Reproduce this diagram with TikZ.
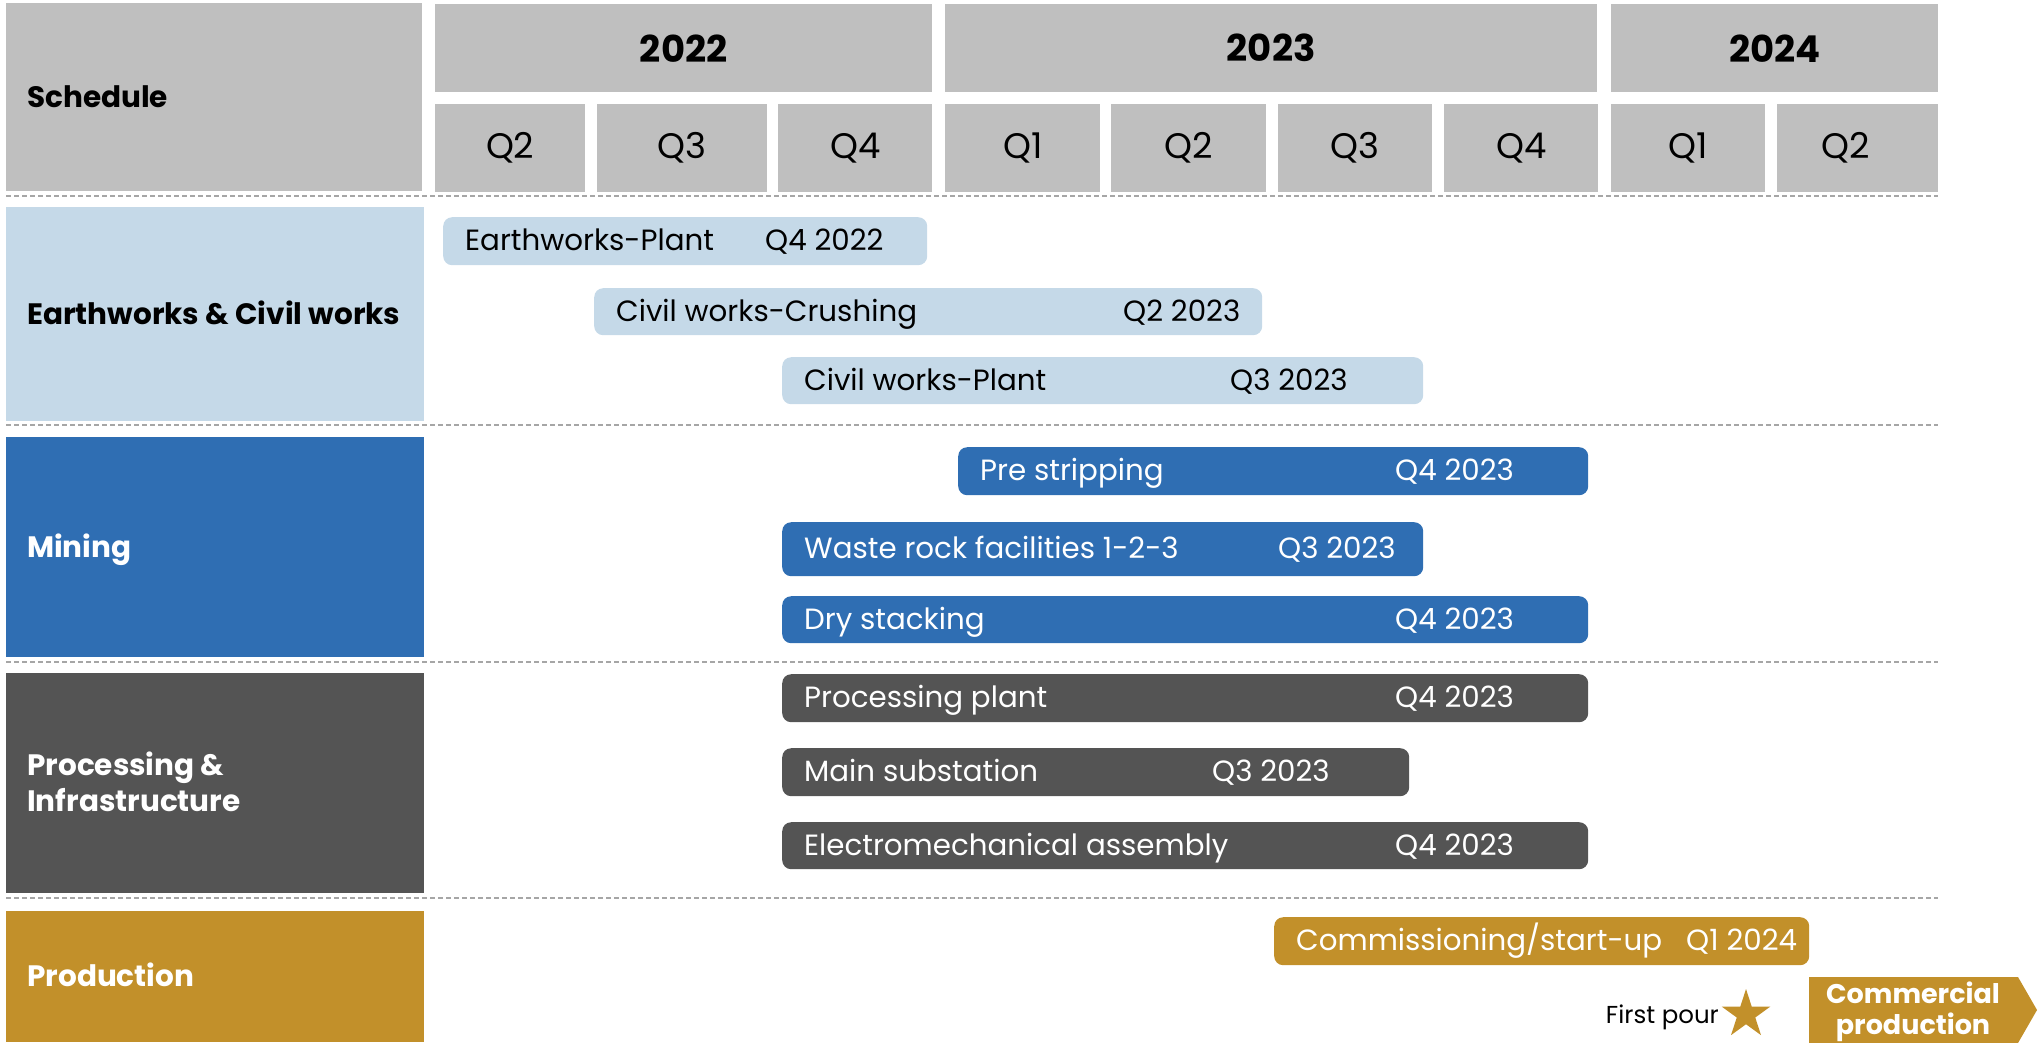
\documentclass[tikz,border=0pt]{standalone}
\usepackage{fontspec}
\setmainfont{Poppins}
\usetikzlibrary{shapes.geometric,calc}
\definecolor{hdr}{HTML}{BFBFBF}
\definecolor{lblue}{HTML}{C5D9E8}
\definecolor{mblue}{HTML}{2F6EB3}
\definecolor{dgray}{HTML}{545454}
\definecolor{gold}{HTML}{C2902A}
\definecolor{dashc}{HTML}{A6A6A6}
\newcommand{\cellbox}[7]{\node[#2, anchor=north west, inner sep=0pt, minimum width={#5-#3}, minimum height={#6-#4}] (#1) at (#3,#4) {#7};}
\newcommand{\gbar}[9]{%
  \node[#2, anchor=north west, inner sep=0pt, rounded corners=9pt, minimum width={#5-#3}, minimum height={#6-#4}] (#1) at (#3,#4) {};
  \node[#2txt, anchor=base west, inner sep=0pt] (#1-a) at ({#3+22},{(#4+#6)/2+9.8}) {#7};
  \node[#2txt, anchor=base west, inner sep=0pt] (#1-d) at (#8,{(#4+#6)/2+9.8}) {#9};}
\begin{document}
\begin{tikzpicture}[x=1pt,y=-1pt,
  hdrbox/.style={fill=hdr},
  yeartxt/.style={font=\fontsize{37}{40}\selectfont\bfseries},
  qtxt/.style={font=\fontsize{35.5}{40}\selectfont},
  cattxt/.style={font=\fontsize{29.5}{36}\selectfont\bfseries, inner sep=0pt},
  sep/.style={draw=dashc, line width=2pt, dash pattern=on 5pt off 3pt},
  bl/.style={fill=lblue}, bltxt/.style={text=black, font=\fontsize{29.3}{34}\selectfont},
  bm/.style={fill=mblue}, bmtxt/.style={text=white, font=\fontsize{29.3}{34}\selectfont},
  bp/.style={fill=dgray}, bptxt/.style={text=white, font=\fontsize{29.3}{34}\selectfont},
  bg/.style={fill=gold}, bgtxt/.style={text=white, font=\fontsize{29.3}{34}\selectfont}]
\useasboundingbox (0,0) rectangle (2039,1042);
% header
\cellbox{sched}{hdrbox}{6}{3}{422}{191}{}
\node[cattxt, anchor=base west] (schedt) at (27,{97+10}) {Schedule};
\cellbox{y22}{hdrbox, yeartxt}{435}{4}{932}{92}{2022}
\cellbox{y23}{hdrbox, yeartxt}{945}{4}{1597}{92}{2023}
\cellbox{y24}{hdrbox, yeartxt}{1611}{4}{1938}{92}{2024}
\cellbox{q1}{hdrbox, qtxt}{435}{104}{585}{192}{Q2}
\cellbox{q2}{hdrbox, qtxt}{597}{104}{767}{192}{Q3}
\cellbox{q3}{hdrbox, qtxt}{778}{104}{932}{192}{Q4}
\cellbox{q4}{hdrbox, qtxt}{945}{104}{1100}{192}{Q1}
\cellbox{q5}{hdrbox, qtxt}{1111}{104}{1266}{192}{Q2}
\cellbox{q6}{hdrbox, qtxt}{1278}{104}{1432}{192}{Q3}
\cellbox{q7}{hdrbox, qtxt}{1444}{104}{1598}{192}{Q4}
\cellbox{q8}{hdrbox, qtxt}{1611}{104}{1765}{192}{Q1}
\cellbox{q9}{hdrbox}{1777}{104}{1938}{192}{}
\node[qtxt, inner sep=0pt] (q9t) at (1846,148) {Q2};
% separators
\foreach \yy in {196,425,662,898} \draw[sep] (6,\yy) -- (1938,\yy);
% categories
\cellbox{c1}{fill=lblue}{6}{207}{424}{421}{}
\cellbox{c2}{fill=mblue}{6}{437}{424}{657}{}
\cellbox{c3}{fill=dgray}{6}{673}{424}{893}{}
\cellbox{c4}{fill=gold}{6}{911}{424}{1042}{}
\node[cattxt, anchor=base west] (c1t) at (27,{314+10.5}) {Earthworks \& Civil works};
\node[cattxt, anchor=base west, text=white] (c2t) at (27,{547+10.5}) {Mining};
\node[cattxt, anchor=west, text=white, align=left] (c3t) at (27,782) {Processing \&\\Infrastructure};
\node[cattxt, anchor=base west, text=white] (c4t) at (27,{976+10.5}) {Production};
% bars
\gbar{b1}{bl}{443}{217}{927}{265}{Earthworks-Plant}{765}{Q4 2022}
\gbar{b2}{bl}{594}{288}{1262}{335}{Civil works-Crushing}{1123}{Q2 2023}
\gbar{b3}{bl}{782}{357}{1423}{404}{Civil works-Plant}{1230}{Q3 2023}
\gbar{b4}{bm}{958}{447}{1588}{495}{Pre stripping}{1395}{Q4 2023}
\gbar{b5}{bm}{782}{522}{1423}{576}{Waste rock facilities 1-2-3}{1278}{Q3 2023}
\gbar{b6}{bm}{782}{596}{1588}{643}{Dry stacking}{1395}{Q4 2023}
\gbar{b7}{bp}{782}{674}{1588}{722}{Processing plant}{1395}{Q4 2023}
\gbar{b8}{bp}{782}{748}{1409}{796}{Main substation}{1212}{Q3 2023}
\gbar{b9}{bp}{782}{822}{1588}{869}{Electromechanical assembly}{1395}{Q4 2023}
\gbar{b10}{bg}{1274}{917}{1809}{965}{Commissioning/start-up}{1686}{Q1 2024}
% milestones
\node[font=\fontsize{24.5}{30}\selectfont, anchor=base east, inner sep=0pt] (fp) at (1719,1023) {First pour};
\node[star, star points=5, star point ratio=2.618, minimum size=51pt, inner sep=0pt, fill=gold] (star) at (1746,1014.5) {};
\fill[gold] (1809,977) -- (2018,977) -- (2037,1010) -- (2018,1043) -- (1809,1043) -- cycle;
\node[font=\fontsize{27}{31}\selectfont\bfseries, text=white, align=center, inner sep=0pt] (comm) at (1913,1012) {Commercial\\production};
\end{tikzpicture}
\end{document}
